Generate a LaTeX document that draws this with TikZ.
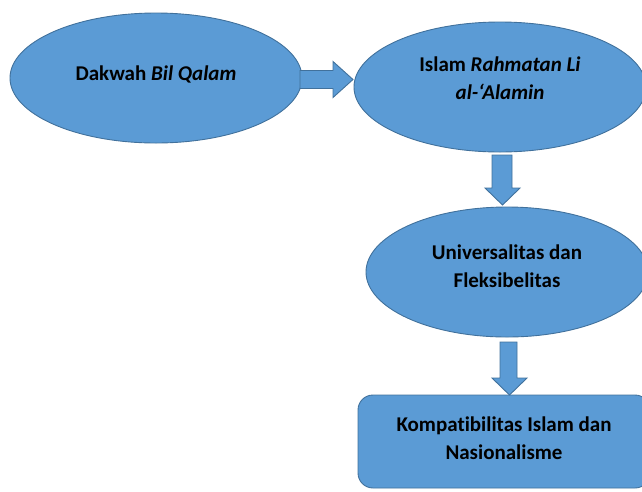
\documentclass[tikz,border=0pt]{standalone}
\usepackage{fontspec}
\setmainfont{Carlito}[Ligatures={NoCommon}]
\usetikzlibrary{shapes.geometric,calc}
\definecolor{boxfill}{HTML}{5B9BD5}
\definecolor{boxline}{HTML}{41719C}
\tikzset{
  oval/.style={ellipse,draw=boxline,fill=boxfill,line width=0.9pt,inner sep=0pt,minimum width=292pt,minimum height=130pt},
  rbox/.style={rectangle,rounded corners=15pt,draw=boxline,fill=boxfill,line width=0.9pt,inner sep=0pt,minimum width=292pt,minimum height=93pt},
  txt/.style={font=\fontsize{21}{28}\selectfont\bfseries,align=center,text=black,inner sep=0pt},
  barrow/.style={draw=boxline,fill=boxfill,line width=0.9pt,line join=miter}
}
\begin{document}
\begin{tikzpicture}[x=1pt,y=-1pt]
\useasboundingbox (0,0) rectangle (642,491);
\clip (0,0) rectangle (642,491);
% shapes
\node[oval] (e1) at (156,78) {};
\node[oval] (e2) at (500,87) {};
\node[oval,minimum width=282pt] (e3) at (507,272) {};
\node[rbox] (r4) at (504,441.5) {};
% texts
\node[txt] (t1) at ([yshift=4pt]e1.center) {Dakwah \textit{Bil Qalam}};
\node[txt] (t2) at ([yshift=9pt]e2.center) {Islam \textit{Rahmatan Li}\\\textit{al-‘Alamin}};
\node[txt] (t3) at ([yshift=6pt]e3.center) {Universalitas dan\\Fleksibelitas};
\node[txt] (t4) at ([yshift=3pt]r4.center) {Kompatibilitas Islam dan\\Nasionalisme};
% block arrows
\coordinate (a1s) at (300,79.5);
\coordinate (a1e) at (353,79.5);
\draw[barrow] ($(a1s)+(0,-9)$) -- ($(a1e)+(-20,-9)$) -- ($(a1e)+(-20,-18)$) -- (a1e)
  -- ($(a1e)+(-20,18)$) -- ($(a1e)+(-20,9)$) -- ($(a1s)+(0,9)$) -- cycle;
\coordinate (d1s) at (502,155);
\coordinate (d1e) at (502.5,205);
\draw[barrow] ($(d1s)+(-10,0)$) -- ($(d1s)+(10,0)$) -- ($(d1e)+(9.5,-17)$) -- ($(d1e)+(17.5,-17)$) -- (d1e)
  -- ($(d1e)+(-17.5,-17)$) -- ($(d1e)+(-10.5,-17)$) -- cycle;
\coordinate (d2s) at (508.5,342);
\coordinate (d2e) at (509.5,395);
\draw[barrow] ($(d2s)+(-8.5,0)$) -- ($(d2s)+(8.5,0)$) -- ($(d2e)+(7.5,-17)$) -- ($(d2e)+(17.5,-17)$) -- (d2e)
  -- ($(d2e)+(-17.5,-17)$) -- ($(d2e)+(-9.5,-17)$) -- cycle;
\end{tikzpicture}
\end{document}
